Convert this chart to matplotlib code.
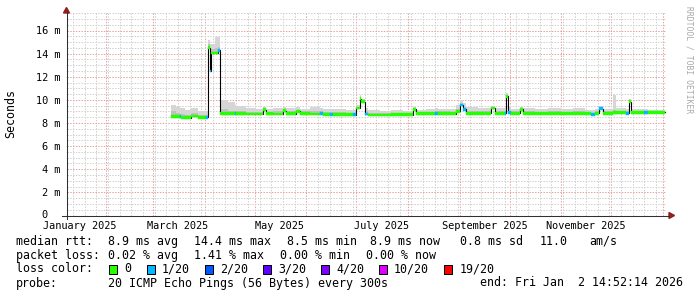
import matplotlib
matplotlib.use("Agg")
import matplotlib.pyplot as plt
import matplotlib.dates as mdates
import matplotlib.ticker as mticker
from matplotlib.patches import Rectangle, Polygon
from matplotlib.lines import Line2D
from matplotlib.transforms import ScaledTranslation
import numpy as np

plt.rcParams['font.family'] = ['DejaVu Sans Mono']

# median rtt per sample (ms), lost pings out of 20, top of smoke, top of darker smoke
sample_dates = ["2025-03-12", "2025-03-15", "2025-03-17", "2025-03-18", "2025-03-20",
                "2025-03-24", "2025-03-28", "2025-04-02", "2025-04-03", "2025-04-04",
                "2025-04-05", "2025-04-07", "2025-04-09", "2025-04-10", "2025-04-15",
                "2025-04-19", "2025-04-20", "2025-04-26", "2025-05-02", "2025-05-06",
                "2025-05-08", "2025-05-12", "2025-05-18", "2025-05-20", "2025-05-26",
                "2025-05-28", "2025-06-03", "2025-06-09", "2025-06-11", "2025-06-15",
                "2025-06-17", "2025-06-25", "2025-06-29", "2025-07-01", "2025-07-03",
                "2025-07-04", "2025-07-06", "2025-07-08", "2025-07-15", "2025-07-22",
                "2025-07-29", "2025-08-04", "2025-08-06", "2025-08-12", "2025-08-17",
                "2025-08-19", "2025-08-26", "2025-08-30", "2025-09-01", "2025-09-03",
                "2025-09-05", "2025-09-12", "2025-09-20", "2025-09-22", "2025-09-28",
                "2025-09-29", "2025-09-30", "2025-10-02", "2025-10-07", "2025-10-09",
                "2025-10-16", "2025-10-24", "2025-11-01", "2025-11-08", "2025-11-15",
                "2025-11-19", "2025-11-21", "2025-11-24", "2025-11-26", "2025-12-02",
                "2025-12-04", "2025-12-10", "2025-12-12", "2025-12-13", "2025-12-21",
                "2025-12-23", "2026-01-02T14:52"]
median_ms = [8.55, 8.55, 8.55, 8.50, 8.45, 8.60, 8.50, 8.50, 14.50, 12.50,
             14.05, 14.05, 14.30, 8.80, 8.80, 8.80, 8.80, 8.78, 8.78, 9.15,
             8.80, 8.78, 9.05, 8.80, 9.00, 8.80, 8.78, 8.80, 8.75, 8.75,
             8.72, 8.72, 8.72, 9.30, 10.10, 9.85, 8.78, 8.70, 8.70, 8.72,
             8.72, 9.20, 8.80, 8.80, 8.82, 8.82, 8.80, 9.00, 9.55, 9.20,
             8.85, 8.85, 9.30, 8.85, 8.85, 10.30, 8.90, 8.85, 9.20, 8.85,
             8.85, 8.85, 8.85, 8.85, 8.80, 8.75, 8.85, 9.25, 8.85, 8.90,
             8.90, 8.85, 9.85, 8.90, 8.90, 8.92, 8.93]
loss_count = [0, 0, 1, 0, 0, 0, 0, 1, 0, 1,
              0, 0, 1, 0, 0, 1, 0, 0, 0, 0,
              0, 0, 0, 0, 0, 0, 0, 1, 0, 1,
              0, 0, 1, 0, 0, 0, 1, 0, 0, 0,
              0, 0, 0, 0, 1, 0, 0, 0, 1, 1,
              0, 0, 0, 0, 1, 0, 1, 0, 0, 0,
              0, 0, 0, 0, 0, 1, 0, 1, 0, 0,
              0, 1, 0, 0, 1, 0, 0]
smoke_hi_ms = [9.6, 9.4, 9.3, 9.3, 9.1, 9.3, 9.0, 9.0, 15.2, 14.8,
               14.8, 15.4, 15.4, 10.0, 9.8, 9.6, 9.5, 9.3, 9.2, 9.4,
               9.2, 9.3, 9.4, 9.3, 9.4, 9.2, 9.4, 9.3, 9.2, 9.2,
               9.2, 9.1, 9.1, 9.6, 10.4, 10.1, 9.3, 9.1, 9.0, 9.1,
               9.0, 9.4, 9.1, 9.2, 9.3, 9.2, 9.2, 9.6, 10.0, 9.7,
               9.4, 9.3, 9.5, 9.3, 9.4, 10.6, 9.4, 9.2, 9.4, 9.3,
               9.2, 9.3, 9.2, 9.3, 9.1, 9.1, 9.2, 9.5, 9.2, 10.4,
               9.3, 9.2, 10.1, 9.2, 9.2, 9.1, 9.1]
smoke_mid_ms = [9.0, 8.9, 8.8, 8.8, 8.7, 8.85, 8.7, 8.7, 14.8, 13.2,
                14.4, 14.5, 14.6, 9.2, 9.0, 9.0, 9.0, 8.95, 8.95, 9.25,
                8.95, 9.0, 9.2, 9.0, 9.1, 9.0, 9.0, 9.0, 8.95, 8.95,
                8.95, 8.9, 8.9, 9.4, 10.2, 9.95, 9.0, 8.9, 8.85, 8.9,
                8.85, 9.25, 8.95, 8.95, 9.0, 9.0, 8.95, 9.2, 9.7, 9.35,
                9.0, 9.0, 9.35, 9.0, 9.0, 10.4, 9.0, 9.0, 9.25, 9.0,
                8.95, 9.0, 8.95, 9.0, 8.95, 8.9, 9.0, 9.3, 9.0, 9.1,
                9.0, 9.0, 9.9, 9.0, 9.0, 9.0, 9.0]

loss_levels = [0, 1, 2, 3, 4, 10, 19]
loss_labels = ["0", "1/20", "2/20", "3/20", "4/20", "10/20", "19/20"]
loss_colors = ["#26ff00", "#00b8ff", "#0059ff", "#5e00ff", "#7e00ff", "#dd00ff", "#ff0000"]

y_ticks = [0, 2, 4, 6, 8, 10, 12, 14, 16]
y_labels = ["0", "2 m", "4 m", "6 m", "8 m", "10 m", "12 m", "14 m", "16 m"]
month_label_dates = ["2025-01-16", "2025-03-16", "2025-05-16", "2025-07-16", "2025-09-16", "2025-11-16"]
month_labels = ["January 2025", "March 2025", "May 2025", "July 2025", "September 2025", "November 2025"]
x_start, x_end = "2025-01-08", "2026-01-02T15:00"

stats_lines = [
    ("median rtt:", [("8.9 ms avg", 108), ("14.4 ms max", 194), ("8.5 ms min", 287),
                     ("8.9 ms now", 370), ("0.8 ms sd", 460), ("11.0", 540), ("am/s", 589)]),
    ("packet loss:", [("0.02 % avg", 108), ("1.41 % max", 194), ("0.00 % min", 280),
                      ("0.00 % now", 366)]),
]
loss_box_x = [108.5, 146.5, 204.5, 262.5, 320.5, 378.5, 444]
probe_text = "20 ICMP Echo Pings (56 Bytes) every 300s"
end_text = "end: Fri Jan  2 14:52:14 2026"

W, H = 697, 297


def fx(x):
    return x / W


def fy(y):
    return 1 - y / H


def loss_color(n):
    c = loss_colors[0]
    for lvl, col in zip(loss_levels, loss_colors):
        if n >= lvl:
            c = col
    return c


fig = plt.figure(figsize=(W / 100, H / 100), dpi=100)
fig.patch.set_facecolor("white")
ax = fig.add_axes([66.5 / W, (H - 215.5) / H, 599 / W, 203.5 / H])

d = mdates.date2num(np.array(sample_dates, dtype="datetime64[m]"))
med = np.array(median_ms)
hi = np.array(smoke_hi_ms)
mid = np.array(smoke_mid_ms)

# smoke
ax.fill_between(d, med, hi, step="post", color="#d6d6d6", lw=0, zorder=1)
ax.fill_between(d, med, mid, step="post", color="#c0c0c0", lw=0, zorder=1.1)
# median line
ax.step(d, med, where="post", color="#000000", lw=0.8, zorder=2)
# loss coloured band around the median
half = 0.12
cols = [loss_color(n) for n in loss_count[:-1]]
ax.bar(d[:-1], 2 * half, width=np.diff(d), bottom=med[:-1] - half, align="edge",
       color=cols, edgecolor=cols, linewidth=0.3, zorder=3)

ax.set_xlim(mdates.date2num(np.datetime64(x_start)), mdates.date2num(np.datetime64(x_end)))
ax.set_ylim(0, 17.6)

# grid
ax.xaxis.set_major_locator(mdates.MonthLocator())
ax.xaxis.set_minor_locator(mdates.WeekdayLocator(byweekday=mdates.SU))
ax.xaxis.set_major_formatter(mticker.NullFormatter())
ax.set_yticks(y_ticks, y_labels)
ax.yaxis.set_minor_locator(mticker.MultipleLocator(0.5))
ax.set_axisbelow(True)
ax.grid(which="minor", color="#cfcfcf", lw=0.72, ls=(0, (1.4, 1.4)))
ax.grid(which="major", color="#e8a0a0", lw=0.72, ls=(0, (1.4, 1.4)))
ax.tick_params(which="both", length=0)
ax.tick_params(axis="y", pad=4.6, labelsize=7.35)
for s in ax.spines.values():
    s.set_visible(False)

zero_lbl = ax.get_yticklabels()[0]
zero_lbl.set_transform(zero_lbl.get_transform() + ScaledTranslation(-0.13, 0.02, fig.dpi_scale_trans))

for ld, lt in zip(month_label_dates, month_labels):
    ax.text(mdates.date2num(np.datetime64(ld)), -10.5 / 203.5, lt, transform=ax.get_xaxis_transform(),
            ha="center", va="center", fontsize=7.35)

# axes with arrows
axis_col = "#303030"
arrow_col = "#902020"
fig.add_artist(Line2D([fx(66.5), fx(66.5)], [fy(219), fy(12)], color=axis_col, lw=0.75))
fig.add_artist(Line2D([fx(62), fx(669)], [fy(215.5), fy(215.5)], color=axis_col, lw=0.75))
fig.add_artist(Polygon([(fx(63.5), fy(13)), (fx(69.5), fy(13)), (fx(66.5), fy(7.5))],
                       closed=True, color=arrow_col, transform=fig.transFigure))
fig.add_artist(Polygon([(fx(669), fy(212.5)), (fx(669), fy(218.5)), (fx(674.5), fy(215.5))],
                       closed=True, color=arrow_col, transform=fig.transFigure))

fig.text(fx(11), fy(114), "Seconds", rotation=90, ha="center", va="center", fontsize=8.4)
fig.text(fx(688.5), fy(60), "RRDTOOL / TOBI OETIKER", rotation=270, ha="center", va="center",
         fontsize=5.8, color="#a8a8a8")

# legend
fs = 8.4
for (head, items), yy in zip(stats_lines, [241.5, 255.5]):
    fig.text(fx(16), fy(yy), head, ha="left", va="center", fontsize=fs)
    for txt, xx in items:
        fig.text(fx(xx), fy(yy), txt, ha="left", va="center", fontsize=fs)

fig.text(fx(16), fy(269), "loss color:", ha="left", va="center", fontsize=fs)
for bx, lab, col in zip(loss_box_x, loss_labels, loss_colors):
    fig.add_artist(Rectangle((fx(bx), fy(273.5)), 8 / W, 9 / H, transform=fig.transFigure,
                             facecolor=col, edgecolor="black", lw=0.72))
    fig.text(fx(bx + 15.5), fy(269), lab, ha="left", va="center", fontsize=fs)

fig.text(fx(16), fy(283), "probe:", ha="left", va="center", fontsize=fs)
fig.text(fx(108), fy(283), probe_text, ha="left", va="center", fontsize=fs)
fig.text(fx(683), fy(283), end_text, ha="right", va="center", fontsize=fs)

fig.savefig("out.png", dpi=100)
